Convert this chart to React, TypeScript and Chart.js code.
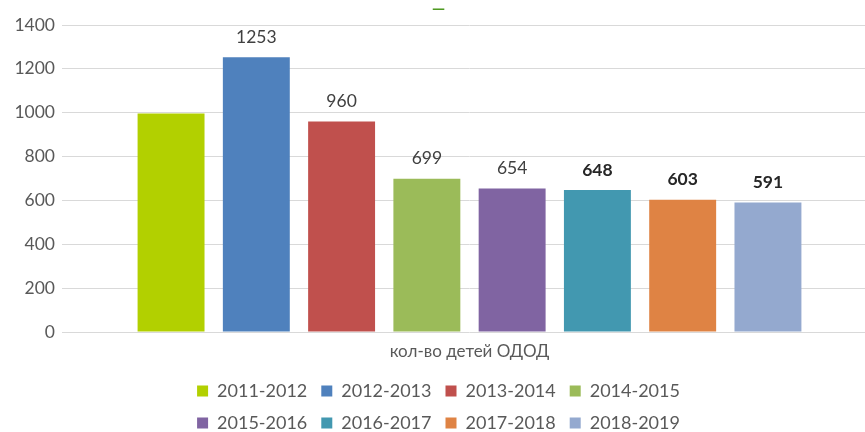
import React, { useEffect, useRef } from "react";
import { Chart, registerables } from "chart.js";

Chart.register(...registerables);

const categories = ["кол-во детей ОДОД"];
const seriesNames = [
  "2011-2012",
  "2012-2013",
  "2013-2014",
  "2014-2015",
  "2015-2016",
  "2016-2017",
  "2017-2018",
  "2018-2019",
];
const seriesValues = [996, 1253, 960, 699, 654, 648, 603, 591];
const showValueLabel = [false, true, true, true, true, true, true, true];
const boldValueLabel = [false, false, false, false, false, true, true, true];
const seriesColors = [
  "#b2d000",
  "#4f81bd",
  "#c0504d",
  "#9bbb59",
  "#8064a2",
  "#4298b0",
  "#df8344",
  "#94a9cf",
];
const yTickLabels = [0, 200, 400, 600, 800, 1000, 1200, 1400];

const FONT = "Lato, 'Open Sans', sans-serif";
const LEGEND_W = 560;

const valueLabelPlugin = {
  id: "valueLabels",
  afterDatasetsDraw(chart: any) {
    const ctx = chart.ctx;
    ctx.save();
    ctx.textAlign = "center";
    ctx.textBaseline = "middle";
    chart.data.datasets.forEach((ds: any, i: number) => {
      if (!showValueLabel[i]) return;
      const meta = chart.getDatasetMeta(i);
      const bar = meta.data[0];
      if (!bar) return;
      const bold = boldValueLabel[i];
      ctx.font = `${bold ? "bold " : ""}17.5px ${FONT}`;
      ctx.fillStyle = bold ? "#262626" : "#404040";
      ctx.fillText(String(ds.data[0]), bar.x, bar.y - 20);
    });
    ctx.restore();
  },
};

function patchLegend(chart: any) {
  const lg = chart.legend;
  if (lg && !lg._patchedWidth) {
    const orig = lg.update.bind(lg);
    lg.update = (w: number, h: number, m: any) => orig(Math.min(w, LEGEND_W), h, m);
    lg._patchedWidth = true;
  }
}

const legendWidthPlugin = {
  id: "legendWidth",
  afterInit(chart: any) {
    patchLegend(chart);
  },
  beforeLayout(chart: any) {
    patchLegend(chart);
  },
  afterLayout(chart: any) {
    const lg = chart.legend;
    if (!lg) return;
    const cx = (lg.left + lg.right) / 2;
    lg.left = cx - LEGEND_W / 2;
    lg.right = cx + LEGEND_W / 2;
    lg.width = LEGEND_W;
  },
};

export default function App() {
  const ref = useRef<HTMLCanvasElement | null>(null);

  useEffect(() => {
    document.body.style.margin = "0";
    if (!ref.current) return;
    const chart = new Chart(ref.current, {
      type: "bar",
      data: {
        labels: categories,
        datasets: seriesNames.map((name, i) => ({
          label: name,
          data: [seriesValues[i]],
          backgroundColor: seriesColors[i],
          borderWidth: 0,
          categoryPercentage: 0.837,
          barPercentage: 0.785,
        })),
      },
      options: {
        animation: false,
        responsive: false,
        devicePixelRatio: 1,
        layout: { padding: 0 },
        plugins: {
          title: {
            display: true,
            text: "—",
            color: "#4f9a22",
            font: { family: FONT, size: 17, weight: "bold", lineHeight: 1 },
            padding: { top: 0, bottom: 8 },
          },
          legend: {
            position: "bottom",
            labels: {
              boxWidth: 11,
              boxHeight: 11,
              padding: 14,
              color: "#595959",
              font: { family: FONT, size: 18 },
            },
          },
          tooltip: { enabled: false },
        },
        scales: {
          x: {
            grid: { display: false, drawTicks: false },
            border: { display: false },
            ticks: { display: false },
            title: {
              display: true,
              text: categories[0],
              color: "#595959",
              font: { family: FONT, size: 17 },
              padding: { top: 9.8, bottom: 5.8 },
            },
          },
          y: {
            min: 0,
            max: 1400,
            afterFit(scale: any) {
              scale.width = 62;
            },
            grid: { color: "#d9d9d9", drawTicks: false, lineWidth: 1 },
            border: { display: false },
            ticks: {
              stepSize: 100,
              padding: 7,
              color: "#595959",
              font: { family: FONT, size: 17.5 },
              callback: (v: any) => (yTickLabels.includes(Number(v)) ? String(v) : ""),
            },
          },
        },
      },
      plugins: [valueLabelPlugin, legendWidthPlugin],
    });
    return () => chart.destroy();
  }, []);

  return (
    <div
      style={{
        position: "fixed",
        left: 0,
        top: 0,
        width: 865,
        height: 432,
        overflow: "hidden",
        background: "#fff",
      }}
    >
      <canvas ref={ref} width={877} height={442} style={{ width: 877, height: 442, display: "block" }} />
    </div>
  );
}
